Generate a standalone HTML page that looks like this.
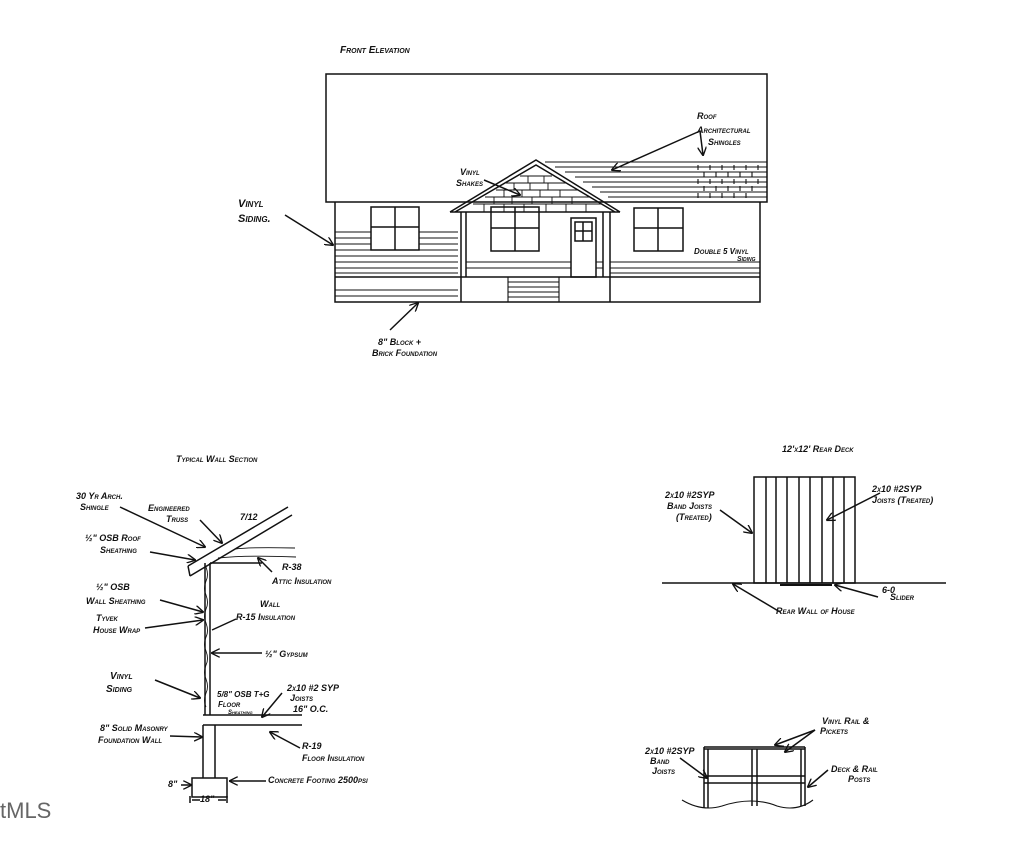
<!DOCTYPE html>
<html><head><meta charset="utf-8"><style>
html,body{margin:0;padding:0;background:#fff;}
svg{display:block}
text{font-family:"Liberation Sans",sans-serif;font-style:italic;fill:#111;font-size:9px;font-variant:small-caps;font-weight:bold;}
text.logo{font-size:22px;font-style:normal;font-variant:normal;font-weight:normal;fill:#666;}
</style></head><body>
<svg width="1024" height="849" viewBox="0 0 1024 849" xmlns="http://www.w3.org/2000/svg" stroke="#111" fill="none" stroke-width="1.5">
<defs><marker id="a" viewBox="0 0 10 10" refX="9" refY="5" markerWidth="6" markerHeight="6" orient="auto"><path d="M0,0 L10,5 L0,10" fill="none" stroke="#111" stroke-width="1.5"/></marker></defs>
<g stroke="none">
<text x="340" y="53" style="font-size:10px">Front Elevation</text>
<text x="697" y="119">Roof</text><text x="697" y="133">Architectural</text><text x="708" y="145">Shingles</text>
<text x="238" y="207" style="font-size:11px">Vinyl</text><text x="238" y="222" style="font-size:11px">Siding.</text>
<text x="460" y="175">Vinyl</text><text x="456" y="186">Shakes</text>
<text x="694" y="254" style="font-size:8px">Double 5 Vinyl</text><text x="737" y="261" style="font-size:7px">Siding</text>
<text x="378" y="345">8" Block +</text><text x="372" y="356">Brick Foundation</text>
<text x="176" y="462">Typical Wall Section</text>
<text x="76" y="499">30 Yr Arch.</text><text x="80" y="510">Shingle</text>
<text x="148" y="511">Engineered</text><text x="166" y="522">Truss</text>
<text x="240" y="520">7/12</text>
<text x="85" y="541">½" OSB Roof</text><text x="100" y="553">Sheathing</text>
<text x="282" y="570">R-38</text><text x="272" y="584">Attic Insulation</text>
<text x="96" y="590">½" OSB</text><text x="86" y="604">Wall Sheathing</text>
<text x="260" y="607">Wall</text><text x="236" y="620">R-15 Insulation</text>
<text x="96" y="621">Tyvek</text><text x="93" y="633">House Wrap</text>
<text x="265" y="657">½" Gypsum</text>
<text x="110" y="679" style="font-size:10px">Vinyl</text><text x="106" y="692" style="font-size:10px">Siding</text>
<text x="217" y="697" style="font-size:8px">5/8" OSB T+G</text><text x="218" y="707" style="font-size:8px">Floor</text><text x="228" y="714" style="font-size:6px">Sheathing</text>
<text x="287" y="691">2x10 #2 SYP</text><text x="290" y="701">Joists</text><text x="293" y="712">16" O.C.</text>
<text x="100" y="731">8" Solid Masonry</text><text x="98" y="743">Foundation Wall</text>
<text x="302" y="749">R-19</text><text x="302" y="761">Floor Insulation</text>
<text x="168" y="787">8"</text>
<text x="268" y="783">Concrete Footing 2500psi</text>
<text x="200" y="802">18"</text>
<text x="782" y="452">12'x12' Rear Deck</text>
<text x="665" y="498">2x10 #2SYP</text><text x="667" y="509">Band Joists</text><text x="676" y="520">(Treated)</text>
<text x="872" y="492">2x10 #2SYP</text><text x="872" y="503">Joists (Treated)</text>
<text x="882" y="593">6-0</text><text x="890" y="600">Slider</text>
<text x="776" y="614">Rear Wall of House</text>
<text x="822" y="724">Vinyl Rail &amp;</text><text x="820" y="734">Pickets</text>
<text x="645" y="754">2x10 #2SYP</text><text x="650" y="764">Band</text><text x="652" y="774">Joists</text>
<text x="831" y="772">Deck &amp; Rail</text><text x="848" y="782">Posts</text>
<text class="logo" x="0" y="818">tMLS</text>
</g>
<!-- Front elevation -->
<rect x="326" y="74" width="441" height="128"/>
<path d="M335 202 V302 H760 V202"/>
<path d="M335 277 H760"/>
<rect x="371" y="207" width="48" height="43"/><path d="M395 207V250M371 227H419"/>
<g stroke-width="1.1"><path d="M335 232H371M419 232H458M335 238H371M419 238H458M335 244H371M419 244H458M335 250H458M335 256H458M335 262H458M335 268H458M335 273H458M335 290H458M335 296H458"/></g>
<path d="M461 212V302M466 212V277M603 212V277M610 212V302"/>
<path d="M450 212 L536 160 L620 212 M455 212 L536 165 L615 212 M450 212H620"/>
<g stroke-width="0.9"><path d="M520 176H552M506 183H566M496 190H578M485 197H590M473 204H602"/>
<path d="M528 176v7M544 176v7M514 183v7M530 183v7M548 183v7M504 190v7M522 190v7M540 190v7M560 190v7M494 197v7M512 197v7M532 197v7M552 197v7M572 197v7M484 204v8M504 204v8M524 204v8M546 204v8M566 204v8M586 204v8"/></g>
<rect x="491" y="207" width="48" height="44"/><path d="M515 207V251M491 228H539"/>
<rect x="571" y="218" width="25" height="59"/><rect x="575" y="222" width="17" height="19"/><path d="M583 222V241M575 231H592"/>
<rect x="634" y="208" width="49" height="43"/><path d="M658 208V251M634 228H683"/>
<g stroke-width="1.1"><path d="M466 262H571M466 268H571M596 262H603M596 268H603M610 262H760M610 268H760M610 273H760"/>
<path d="M508 277V302M559 277V302M508 282H559M508 287H559M508 292H559M508 297H559"/>
<path d="M545 162H767M555 167H767M565 172H767M575 177H767M583 182H767M592 187H767M600 192H767M608 197H767"/>
<path d="M698 165v5M710 165v5M722 165v5M734 165v5M746 165v5M758 165v5M704 172v5M716 172v5M728 172v5M740 172v5M752 172v5M698 179v5M710 179v5M722 179v5M734 179v5M746 179v5M758 179v5M704 186v5M716 186v5M728 186v5M740 186v5M752 186v5M698 193v5M710 193v5M722 193v5M734 193v5M746 193v5"/></g>
<path d="M700 131 L612 170" marker-end="url(#a)"/><path d="M700 131 L703 155" marker-end="url(#a)"/>
<path d="M484 180 L520 195" marker-end="url(#a)"/>
<path d="M285 215 L333 245" marker-end="url(#a)"/>
<path d="M390 330 L418 303" marker-end="url(#a)"/>
<!-- Wall section -->
<path d="M188 566 L288 507 M190 576 L292 515 M188 566 L190 576"/>
<path d="M205 563V715M210 563V715M210 563H262"/>
<path d="M206 567 q3 8 0 14 q-3 8 0 14 q3 8 0 14 q-3 8 0 14 q3 8 0 14 q-3 8 0 14 q3 8 0 14 q-3 8 0 14 q3 8 0 14 q-3 8 0 14" stroke-width="0.9"/>
<path d="M235 549 q15 -2 60 -1M218 558 q30 -3 78 -1" stroke-width="0.9"/>
<path d="M203 715H302M203 725H302M203 725V778M215 725V778"/>
<rect x="192" y="778" width="35" height="19"/>
<path d="M190 796V803M227 796V803M192 800H200M218 800H226"/>
<path d="M120 507 L205 547" marker-end="url(#a)"/><path d="M200 520 L222 543" marker-end="url(#a)"/>
<path d="M150 552 L195 560" marker-end="url(#a)"/><path d="M272 572 L258 558" marker-end="url(#a)"/>
<path d="M160 600 L203 612" marker-end="url(#a)"/><path d="M145 628 L203 620" marker-end="url(#a)"/>
<path d="M236 619 L212 630"/><path d="M262 653 L212 653" marker-end="url(#a)"/>
<path d="M155 680 L200 698" marker-end="url(#a)"/><path d="M282 693 L262 717" marker-end="url(#a)"/>
<path d="M170 736 L202 737" marker-end="url(#a)"/><path d="M300 748 L270 732" marker-end="url(#a)"/>
<path d="M181 785 L191 785" marker-end="url(#a)"/><path d="M266 781 L230 781" marker-end="url(#a)"/>
<!-- Deck -->
<rect x="754" y="477" width="101" height="106"/>
<path d="M766 477V583M776 477V583M787 477V583M799 477V583M810 477V583M822 477V583M833 477V583M844 477V583"/>
<path d="M662 583H946"/><path d="M780 585H832" stroke-width="2"/>
<path d="M720 510 L752 533" marker-end="url(#a)"/><path d="M880 493 L827 520" marker-end="url(#a)"/>
<path d="M780 612 L733 584" marker-end="url(#a)"/><path d="M878 597 L835 585" marker-end="url(#a)"/>
<!-- Rail -->
<path d="M704 747H805M704 749H805M704 776H805M704 783H805"/>
<path d="M704 747V808M708 749V808M752 749V806M757 749V806M801 749V806M805 747V806"/>
<path d="M682 800 q20 12 40 6 q30 -10 55 0 q20 6 36 -6" stroke-width="1.1"/>
<path d="M815 730 L775 745" marker-end="url(#a)"/><path d="M815 730 L785 752" marker-end="url(#a)"/>
<path d="M680 758 L707 778" marker-end="url(#a)"/><path d="M828 770 L808 787" marker-end="url(#a)"/>
</svg>
</body></html>
